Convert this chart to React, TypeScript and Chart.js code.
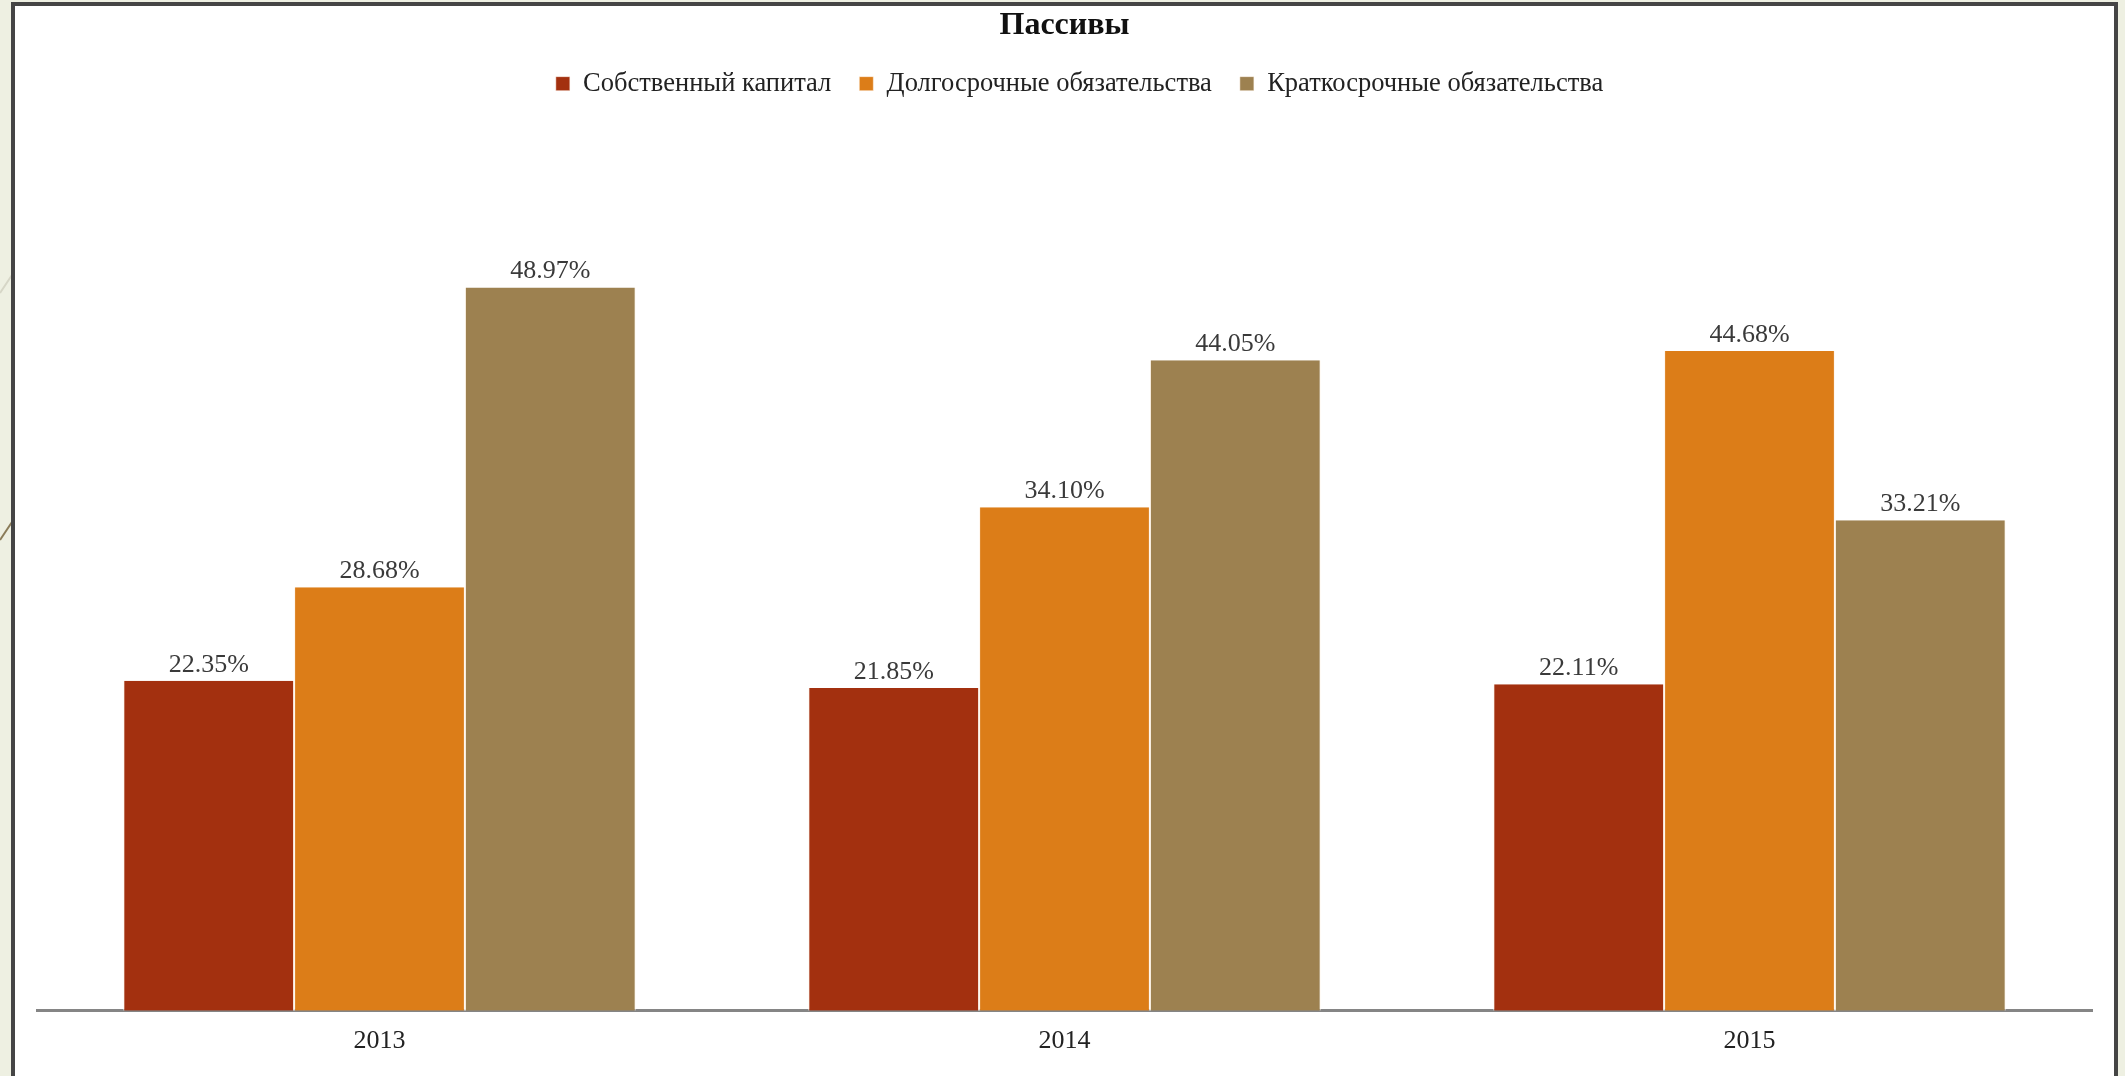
import React, { useEffect, useRef } from "react";
import { Chart, registerables } from "chart.js";

Chart.register(...registerables);

const title = "Пассивы";
const categories = ["2013", "2014", "2015"];
const seriesNames = ["Собственный капитал", "Долгосрочные обязательства", "Краткосрочные обязательства"];
const equity = [22.35, 21.85, 22.11];
const longTerm = [28.68, 34.1, 44.68];
const shortTerm = [48.97, 44.05, 33.21];
const seriesColors = ["#A3300F", "#DC7D18", "#9D8150"];

const FONT = "'Liberation Serif', 'Times New Roman', serif";

const valueLabels = {
  id: "valueLabels",
  afterLayout(chart: any) {
    if (chart.legend) {
      chart.legend.left += 15;
      chart.legend.right += 15;
    }
  },
  afterDatasetsDraw(chart: any) {
    const ctx = chart.ctx;
    ctx.save();
    ctx.font = `26px ${FONT}`;
    ctx.fillStyle = "#3a3a3a";
    ctx.textAlign = "center";
    ctx.textBaseline = "bottom";
    chart.data.datasets.forEach((ds: any, i: number) => {
      const meta = chart.getDatasetMeta(i);
      meta.data.forEach((bar: any, j: number) => {
        const v = ds.data[j];
        ctx.fillText(v.toFixed(2) + "%", bar.x, bar.y - 3);
      });
    });
    ctx.restore();
  },
};

export default function App() {
  const ref = useRef<HTMLCanvasElement>(null);
  useEffect(() => {
    if (!ref.current) return;
    const data = [equity, longTerm, shortTerm];
    const chart = new Chart(ref.current, {
      type: "bar",
      data: {
        labels: categories,
        datasets: seriesNames.map((name, i) => ({
          label: name,
          data: data[i],
          backgroundColor: seriesColors[i],
          borderColor: "#FFF6EC",
          borderWidth: { left: 1, right: 1, top: 0, bottom: 0 },
          borderSkipped: false,
          categoryPercentage: 0.748,
          barPercentage: 1.0,
        })),
      },
      options: {
        animation: false,
        responsive: false,
        maintainAspectRatio: false,
        layout: { padding: { left: 37, right: 33, top: 2, bottom: 4 } },
        plugins: {
          title: {
            display: true,
            text: title,
            color: "#111",
            font: { family: FONT, size: 32, weight: "bold" },
            padding: { top: 5, bottom: -3 },
          },
          legend: {
            display: true,
            position: "top",
            labels: {
              color: "#222",
              font: { family: FONT, size: 26.5 },
              boxWidth: 14,
              boxHeight: 14,
              padding: 28,
            },
          },
          tooltip: { enabled: false },
        },
        scales: {
          x: {
            grid: { display: false, drawTicks: false },
            border: { display: true, color: "#858585", width: 3 },
            ticks: { color: "#222", font: { family: FONT, size: 26 }, padding: 15 },
          },
          y: {
            display: false,
            min: 0,
            max: 61.2,
          },
        },
      },
      plugins: [valueLabels],
    });
    return () => chart.destroy();
  }, []);

  return (
    <div style={{ position: "fixed", left: 0, top: 0, width: 2125, height: 1076, background: "#EEF0E2", overflow: "hidden" }}>
      <svg width={12} height={1076} style={{ position: "absolute", left: 0, top: 0 }}>
        <line x1={0} y1={293} x2={12} y2={275} stroke="#D6D6C6" strokeWidth={2} />
        <line x1={0} y1={540} x2={12} y2={522} stroke="#8A7B58" strokeWidth={2} />
      </svg>
      <div
        style={{
          position: "absolute",
          left: 11,
          top: 2,
          width: 2099,
          height: 1073,
          background: "#FFFFFF",
          borderLeft: "4px solid #454545",
          borderRight: "4px solid #454545",
          borderTop: "4px solid #454545",
          borderBottom: "1px solid #DADADA",
        }}
      />
      <canvas ref={ref} width={2125} height={1076} style={{ position: "absolute", left: 0, top: 0 }} />
    </div>
  );
}
